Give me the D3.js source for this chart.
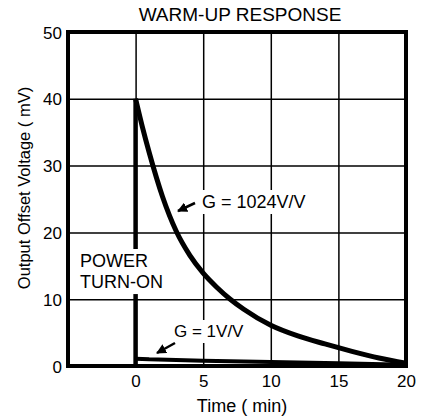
<!DOCTYPE html>
<html>
<head>
<meta charset="utf-8">
<script src="https://cdn.jsdelivr.net/npm/d3@7"></script>
<style>
  body { margin: 0; background: #fff; }
  svg { font-family: "Liberation Sans", Arial, Helvetica, sans-serif; }
</style>
</head>
<body>
<svg id="svg"></svg>
<script>
// data
const xTicks = [0, 5, 10, 15, 20];
const yTicks = [0, 10, 20, 30, 40, 50];
const turnOnT = [0, 0];
const turnOnV = [0, 40];
const hiGainT = [0, 0.5, 1, 2, 3, 4, 5, 6, 7, 8, 10, 12, 14, 16, 18, 20];
const hiGainV = [40, 35.8, 32, 25.3, 20.2, 16.6, 13.9, 11.8, 10, 8.5, 6.1, 4.5, 3.3, 2.2, 1.2, 0.4];
const loGainT = [0, 1, 5, 10, 15, 20];
const loGainV = [1.1, 1.0, 0.8, 0.6, 0.4, 0.2];

const W = 425, H = 419;
const margin = {top: 32, right: 19, bottom: 53, left: 68},
  width = W - margin.left - margin.right,
  height = H - margin.top - margin.bottom;

const root = d3.select("svg").attr("width", W).attr("height", H);
const svg = root.append("g")
  .attr("transform", `translate(${margin.left},${margin.top})`);

const x = d3.scaleLinear().domain([-5, 20]).range([0, width]);
const y = d3.scaleLinear().domain([0, 50]).range([height, 0]);

// grid + tick labels from the axes
const xAxis = svg.append("g")
  .attr("transform", `translate(0,${height})`)
  .call(d3.axisBottom(x).tickValues(xTicks).tickSize(-height).tickPadding(9));
const yAxis = svg.append("g")
  .call(d3.axisLeft(y).tickValues(yTicks).tickSize(-width).tickPadding(6));

[xAxis, yAxis].forEach(a => {
  a.select(".domain").remove();
  a.selectAll("line").attr("stroke", "#000").attr("stroke-width", 1.5);
  a.selectAll("text").attr("fill", "#000").style("font-size", "17px");
});
yAxis.selectAll("text").attr("dy", "0.36em");
xAxis.selectAll("text").attr("dy", "0.72em");

const line = d3.line().x(d => x(d[0])).y(d => y(d[1]));
const zip = (a, b) => a.map((v, i) => [v, b[i]]);

// G = 1V/V
svg.append("path")
  .datum(zip(loGainT, loGainV))
  .attr("d", line)
  .attr("fill", "none").attr("stroke", "#000").attr("stroke-width", 4);

// power turn-on step
svg.append("path")
  .datum(zip(turnOnT, turnOnV))
  .attr("d", line)
  .attr("fill", "none").attr("stroke", "#000").attr("stroke-width", 4.5);

// G = 1024V/V
svg.append("path")
  .datum(zip(hiGainT, hiGainV))
  .attr("d", d3.line().x(d => x(d[0])).y(d => y(d[1])).curve(d3.curveMonotoneX))
  .attr("fill", "none").attr("stroke", "#000").attr("stroke-width", 5)
  .attr("stroke-linejoin", "round");

// border
svg.append("rect")
  .attr("x", 0).attr("y", 0).attr("width", width).attr("height", height)
  .attr("fill", "none").attr("stroke", "#000").attr("stroke-width", 4);

// labels with white background
function label(lines, tx, ty, size, pad) {
  const g = svg.append("g");
  const t = g.append("text")
    .attr("x", tx).attr("y", ty)
    .style("font-size", size + "px").attr("fill", "#000");
  lines.forEach((s, i) => t.append("tspan").attr("x", tx).attr("dy", i ? "1.17em" : 0).text(s));
  const b = t.node().getBBox();
  g.insert("rect", "text")
    .attr("x", b.x - pad).attr("y", b.y - pad)
    .attr("width", b.width + 2 * pad).attr("height", b.height + 2 * pad)
    .attr("fill", "#fff");
}
label(["POWER", "TURN-ON"], 12, 235, 18, 2);
label(["G = 1024V/V"], 134, 176, 18, 2);
label(["G = 1V/V"], 106, 305, 17, 2);

// arrows
svg.append("defs").append("marker")
  .attr("id", "ah").attr("viewBox", "0 0 10 10")
  .attr("refX", 9).attr("refY", 5)
  .attr("markerWidth", 4).attr("markerHeight", 4)
  .attr("orient", "auto")
  .append("path").attr("d", "M0,0L10,5L0,10z").attr("fill", "#000");

function arrow(x1, y1, x2, y2) {
  svg.append("line")
    .attr("x1", x1).attr("y1", y1).attr("x2", x2).attr("y2", y2)
    .attr("stroke", "#000").attr("stroke-width", 2.5)
    .attr("marker-end", "url(#ah)");
}
arrow(127, 171, 110, 179);
arrow(107, 311, 89, 321);

// title and axis titles
root.append("text")
  .attr("x", 240).attr("y", 21)
  .attr("text-anchor", "middle")
  .style("font-size", "19px")
  .text("WARM-UP RESPONSE");

root.append("text")
  .attr("x", 242).attr("y", 412)
  .attr("text-anchor", "middle")
  .style("font-size", "18px")
  .text("Time ( min)");

root.append("text")
  .attr("transform", "translate(30,188) rotate(-90)")
  .attr("text-anchor", "middle")
  .style("font-size", "16.5px")
  .text("Output Offset Voltage ( mV)");
</script>
</body>
</html>
